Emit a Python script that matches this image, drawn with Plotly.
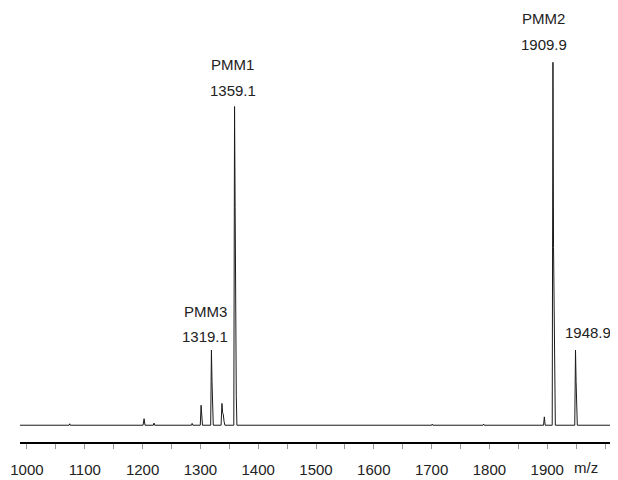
import plotly.graph_objects as go

# Spectrum points (m/z, relative intensity, PMM2 = 100)
MZ = [988, 1073, 1074, 1075,
      1200.8, 1202.6, 1204.2,
      1218.6, 1219.8, 1221.0,
      1284.5, 1285.7, 1287.0,
      1299.8, 1301.2, 1302.4, 1303.6,
      1317.8, 1319.1, 1320.1, 1321.1, 1322.3,
      1335.8, 1337.3, 1338.4, 1339.6, 1341.0, 1342.4,
      1357.8, 1359.1, 1360.1, 1361.1, 1362.1, 1363.2,
      1700, 1701, 1702,
      1789, 1790, 1791,
      1893.6, 1895.0, 1896.4,
      1908.6, 1909.9, 1910.9, 1911.9, 1912.9, 1914.0,
      1947.6, 1948.9, 1949.9, 1950.9, 1952.0,
      2010]
INTENSITY = [0, 0, 0.4, 0,
             0, 1.8, 0,
             0, 0.6, 0,
             0, 0.5, 0,
             0, 5.5, 1.2, 0,
             0, 20.7, 12.0, 4.0, 0,
             0, 6.0, 3.5, 3.0, 1.0, 0,
             0, 87.8, 60.0, 26.0, 8.0, 0,
             0, 0.3, 0,
             0, 0.3, 0,
             0, 2.3, 0,
             0, 100.0, 49.0, 24.0, 8.0, 0,
             0, 20.7, 12.0, 5.0, 0,
             0]

# Labelled peaks
PEAK_NAMES = ["PMM3", "PMM1", "PMM2", ""]
PEAK_MZ = [1319.1, 1359.1, 1909.9, 1948.9]
PEAK_INT = [20.7, 87.8, 100.0, 20.7]
PEAK_TEXT = ["1319.1", "1359.1", "1909.9", "1948.9"]
PEAK_XSHIFT = [-6, -2, -9, 12]
PEAK_YSHIFT = [3, 6, 7, 7]
NAME_YSHIFT = [28, 32, 33, 0]

TICK_VALUES = [1000, 1100, 1200, 1300, 1400, 1500, 1600, 1700, 1800, 1900]
TICK_LABELS = [str(v) for v in TICK_VALUES]

FONT = "Liberation Sans, Arial, sans-serif"
TXT = "#222222"

fig = go.Figure()
fig.add_trace(go.Scatter(
    x=MZ, y=INTENSITY, mode="lines",
    line=dict(color="#1a1a1a", width=1),
    hoverinfo="skip", showlegend=False,
))

for name, mz, h, txt, dx, dy, ny in zip(PEAK_NAMES, PEAK_MZ, PEAK_INT, PEAK_TEXT,
                                        PEAK_XSHIFT, PEAK_YSHIFT, NAME_YSHIFT):
    fig.add_annotation(x=mz, y=h, text=txt, showarrow=False,
                       yanchor="bottom", yshift=dy, xshift=dx,
                       font=dict(family=FONT, size=15, color=TXT))
    if name:
        fig.add_annotation(x=mz, y=h, text=name, showarrow=False,
                           yanchor="bottom", yshift=ny, xshift=dx,
                           font=dict(family=FONT, size=15, color=TXT))

fig.add_annotation(xref="paper", yref="paper", x=0.982, y=0, text="m/z",
                   showarrow=False, yanchor="top", yshift=-15,
                   font=dict(family=FONT, size=15, color=TXT))

# page body has an 8px default margin, so the figure is offset by 8px
fig.update_layout(
    width=610, height=472,
    margin=dict(l=9, r=7, t=2, b=32),
    paper_bgcolor="white", plot_bgcolor="white",
    showlegend=False,
    xaxis=dict(
        range=[987.95, 2010.3],
        tickmode="array", tickvals=TICK_VALUES, ticktext=TICK_LABELS,
        ticks="outside", ticklen=5, tickwidth=1, tickcolor="#999999",
        minor=dict(tickmode="linear", tick0=1000, dtick=50,
                   ticks="outside", ticklen=5, tickwidth=1, tickcolor="#999999"),
        showline=True, linecolor="black", linewidth=2,
        showgrid=False, zeroline=False,
        ticklabelstandoff=8,
        ticklabeloverflow="allow",
        tickfont=dict(family=FONT, size=15, color=TXT),
    ),
    yaxis=dict(
        range=[-4.62, 114.4],
        visible=False, showgrid=False, zeroline=False,
    ),
)

fig.write_html("out.html")
